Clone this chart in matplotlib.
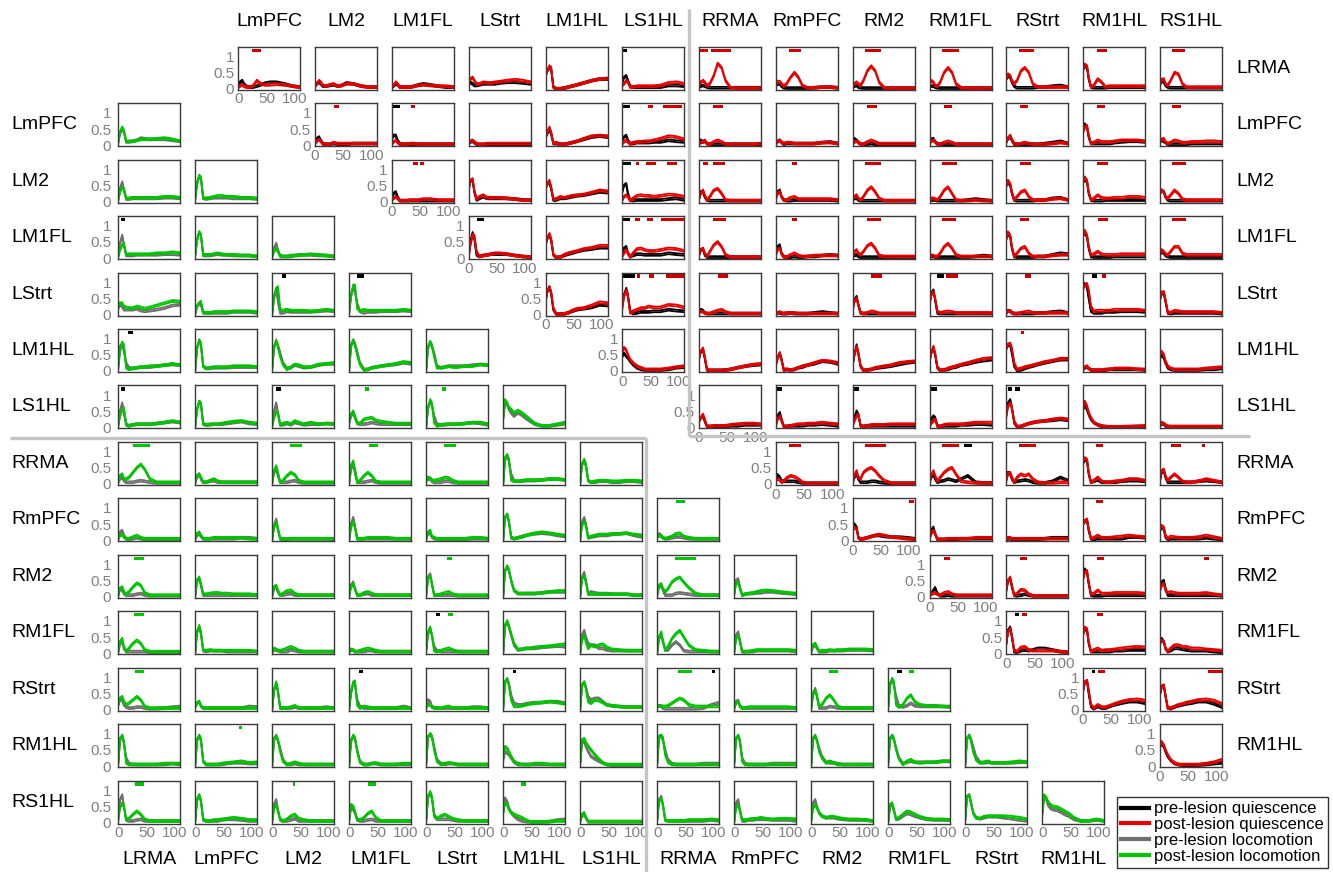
import matplotlib
matplotlib.use('Agg')
import matplotlib.pyplot as plt
from matplotlib.lines import Line2D
import numpy as np

plt.rcParams['font.family'] = ['Liberation Sans', 'DejaVu Sans']

regions = ['LRMA', 'LmPFC', 'LM2', 'LM1FL', 'LStrt', 'LM1HL', 'LS1HL',
           'RRMA', 'RmPFC', 'RM2', 'RM1FL', 'RStrt', 'RM1HL', 'RS1HL']

# lag (bins) at which each curve value is given
lags = [0, 3, 7, 10, 14, 19, 26, 33, 40, 47, 56, 68, 82, 96, 110]

# ---- quiescence (upper-right triangle), values x100 ----
# one list per row region, panels ordered left to right (columns after the row region)
quiet_pre_LRMA = [
    [5, 20, 25, 15, 8, 5, 5, 8, 12, 17, 20, 20, 15, 8, 5],
    [8, 15, 20, 15, 8, 8, 10, 12, 8, 10, 18, 15, 8, 5, 5],
    [5, 8, 15, 12, 5, 5, 5, 5, 8, 12, 15, 12, 8, 5, 5],
    [10, 20, 15, 10, 10, 12, 15, 15, 15, 15, 18, 20, 20, 18, 15],
    [40, 55, 65, 60, 5, 0, 0, 2, 5, 8, 12, 18, 25, 30, 30],
    [20, 35, 40, 25, 8, 5, 5, 5, 5, 5, 5, 5, 10, 10, 8],
    [5, 8, 10, 8, 5, 3, 3, 3, 3, 3, 3, 3, 3, 3, 3],
    [10, 15, 15, 8, 3, 2, 2, 2, 2, 2, 2, 3, 5, 5, 3],
    [5, 8, 10, 5, 3, 2, 2, 2, 2, 2, 2, 2, 2, 2, 2],
    [5, 8, 8, 5, 3, 2, 2, 2, 2, 2, 2, 2, 2, 2, 2],
    [30, 40, 35, 20, 8, 3, 3, 3, 3, 3, 5, 5, 8, 10, 5],
    [60, 70, 65, 30, 5, 3, 3, 3, 3, 5, 5, 5, 5, 5, 5],
    [10, 25, 20, 10, 5, 3, 3, 3, 3, 3, 3, 3, 3, 3, 3],
]
quiet_post_LRMA = [
    [5, 8, 12, 8, 5, 5, 8, 25, 15, 12, 12, 14, 12, 8, 5],
    [8, 15, 25, 20, 10, 8, 12, 15, 8, 10, 15, 15, 8, 5, 5],
    [5, 10, 20, 15, 5, 5, 5, 5, 8, 10, 12, 10, 8, 8, 5],
    [15, 30, 35, 25, 15, 15, 20, 18, 18, 20, 22, 25, 28, 25, 20],
    [40, 55, 70, 65, 5, 0, 0, 2, 5, 8, 12, 18, 25, 30, 32],
    [10, 15, 25, 20, 5, 5, 8, 8, 8, 8, 8, 10, 18, 20, 15],
    [10, 20, 25, 20, 10, 15, 40, 78, 65, 25, 3, 2, 2, 2, 2],
    [15, 22, 22, 15, 8, 15, 35, 50, 35, 10, 3, 3, 5, 5, 3],
    [10, 15, 20, 15, 10, 25, 55, 70, 55, 20, 3, 2, 2, 2, 2],
    [15, 25, 20, 10, 8, 20, 50, 65, 50, 15, 3, 2, 2, 2, 2],
    [30, 45, 40, 25, 15, 25, 55, 65, 50, 15, 5, 5, 5, 5, 5],
    [60, 75, 70, 35, 5, 10, 30, 20, 5, 8, 8, 8, 8, 8, 8],
    [15, 28, 30, 15, 10, 25, 50, 45, 15, 5, 5, 5, 5, 5, 5],
]
quiet_pre_LmPFC = [
    [10, 20, 25, 15, 5, 3, 3, 5, 3, 3, 3, 5, 5, 5, 5],
    [20, 30, 30, 15, 5, 3, 3, 3, 3, 3, 3, 3, 3, 3, 3],
    [5, 10, 12, 8, 3, 2, 2, 3, 3, 3, 3, 3, 3, 3, 3],
    [25, 35, 50, 35, 5, 5, 3, 3, 5, 8, 12, 18, 25, 28, 25],
    [15, 25, 30, 15, 5, 5, 8, 8, 8, 8, 10, 10, 15, 12, 10],
    [5, 15, 10, 12, 5, 3, 3, 3, 3, 3, 3, 3, 3, 3, 3],
    [5, 12, 15, 8, 3, 5, 5, 5, 5, 5, 5, 5, 8, 10, 5],
    [10, 20, 15, 8, 3, 3, 3, 5, 3, 3, 3, 3, 3, 3, 3],
    [10, 18, 20, 10, 5, 3, 3, 3, 3, 3, 3, 3, 3, 3, 3],
    [10, 20, 25, 15, 3, 3, 3, 3, 3, 3, 3, 5, 8, 12, 5],
    [50, 65, 55, 25, 5, 5, 5, 5, 5, 5, 8, 10, 12, 12, 10],
    [10, 15, 12, 8, 3, 3, 3, 3, 3, 3, 5, 5, 5, 5, 5],
]
quiet_post_LmPFC = [
    [5, 12, 18, 12, 3, 3, 3, 8, 5, 5, 5, 5, 5, 5, 5],
    [5, 10, 15, 8, 3, 3, 3, 5, 5, 3, 3, 3, 3, 3, 3],
    [5, 12, 15, 10, 5, 3, 3, 5, 5, 5, 5, 5, 5, 5, 5],
    [25, 40, 55, 40, 5, 8, 3, 3, 5, 8, 12, 20, 28, 30, 28],
    [5, 10, 15, 10, 3, 8, 10, 10, 12, 12, 15, 20, 28, 25, 18],
    [5, 8, 10, 15, 5, 3, 10, 15, 10, 3, 3, 3, 3, 3, 5],
    [5, 10, 15, 10, 5, 8, 8, 5, 5, 5, 5, 5, 8, 8, 5],
    [5, 10, 12, 10, 3, 3, 10, 15, 10, 5, 5, 5, 5, 5, 5],
    [5, 12, 15, 10, 3, 3, 8, 12, 8, 3, 3, 3, 3, 3, 3],
    [10, 22, 30, 18, 5, 3, 5, 8, 5, 3, 3, 3, 5, 8, 5],
    [40, 55, 60, 30, 5, 8, 15, 10, 10, 10, 12, 15, 15, 15, 12],
    [10, 18, 20, 10, 5, 8, 15, 12, 8, 8, 10, 10, 12, 12, 10],
]
quiet_pre_LM2 = [
    [10, 25, 30, 15, 3, 3, 3, 3, 3, 3, 3, 3, 3, 3, 3],
    [40, 65, 65, 30, 5, 10, 15, 10, 10, 10, 10, 10, 8, 5, 5],
    [40, 55, 60, 40, 5, 5, 10, 10, 12, 15, 18, 20, 25, 30, 28],
    [30, 50, 55, 25, 5, 3, 5, 5, 5, 5, 5, 5, 8, 10, 5],
    [10, 30, 30, 15, 5, 3, 3, 3, 3, 3, 3, 3, 3, 3, 3],
    [10, 30, 35, 15, 5, 3, 3, 5, 5, 5, 5, 5, 5, 5, 3],
    [5, 10, 10, 5, 3, 3, 3, 3, 3, 3, 3, 3, 3, 3, 3],
    [5, 5, 5, 5, 3, 3, 3, 3, 3, 3, 3, 5, 8, 5, 3],
    [50, 60, 50, 25, 5, 3, 3, 3, 3, 3, 5, 5, 10, 12, 5],
    [60, 70, 60, 25, 5, 3, 3, 3, 5, 5, 5, 5, 5, 5, 5],
    [25, 35, 30, 15, 5, 3, 3, 3, 3, 3, 3, 3, 3, 3, 3],
]
quiet_post_LM2 = [
    [5, 10, 15, 10, 3, 3, 3, 5, 5, 5, 8, 8, 5, 5, 5],
    [40, 65, 70, 35, 8, 15, 20, 12, 12, 12, 12, 10, 8, 5, 5],
    [40, 55, 65, 45, 8, 8, 15, 12, 15, 18, 20, 22, 28, 35, 32],
    [5, 15, 20, 15, 3, 10, 18, 20, 18, 18, 15, 18, 22, 20, 15],
    [10, 25, 35, 20, 5, 15, 35, 40, 25, 5, 3, 3, 3, 3, 3],
    [10, 25, 30, 15, 5, 5, 12, 15, 8, 8, 8, 8, 8, 8, 5],
    [10, 15, 20, 10, 5, 15, 35, 45, 30, 10, 3, 3, 3, 3, 3],
    [5, 10, 10, 8, 5, 15, 35, 45, 25, 5, 3, 3, 5, 3, 3],
    [50, 65, 55, 30, 5, 15, 30, 35, 15, 5, 5, 5, 8, 10, 5],
    [60, 75, 65, 30, 5, 10, 20, 12, 10, 10, 12, 12, 15, 15, 12],
    [25, 35, 30, 15, 10, 20, 35, 25, 8, 5, 5, 5, 5, 5, 5],
]
quiet_pre_LM1FL = [
    [10, 50, 78, 60, 10, 5, 8, 10, 12, 12, 12, 12, 8, 5, 3],
    [40, 60, 72, 55, 10, 2, 3, 8, 12, 15, 20, 25, 28, 32, 32],
    [20, 30, 35, 15, 5, 8, 12, 12, 10, 10, 10, 10, 15, 12, 10],
    [10, 25, 28, 10, 3, 3, 3, 3, 3, 3, 3, 3, 3, 3, 3],
    [15, 35, 40, 15, 5, 3, 3, 5, 3, 3, 5, 5, 8, 10, 8],
    [5, 8, 10, 5, 3, 3, 3, 3, 3, 3, 3, 3, 3, 3, 3],
    [3, 5, 5, 3, 3, 3, 3, 3, 3, 3, 3, 3, 5, 8, 5],
    [60, 75, 65, 30, 5, 3, 3, 3, 3, 3, 5, 5, 10, 15, 12],
    [70, 80, 65, 30, 5, 3, 3, 3, 3, 3, 5, 5, 5, 5, 5],
    [10, 20, 15, 8, 5, 3, 3, 3, 3, 3, 3, 3, 3, 3, 3],
]
quiet_post_LM1FL = [
    [5, 40, 72, 70, 20, 5, 8, 10, 12, 15, 15, 12, 8, 5, 3],
    [40, 60, 75, 60, 10, 2, 3, 10, 15, 18, 22, 28, 32, 38, 38],
    [5, 15, 25, 15, 3, 15, 28, 30, 25, 22, 22, 25, 30, 28, 22],
    [10, 25, 30, 15, 5, 20, 40, 50, 35, 10, 3, 3, 3, 3, 3],
    [10, 25, 30, 12, 3, 3, 10, 15, 8, 5, 5, 8, 8, 8, 8],
    [10, 20, 25, 15, 10, 20, 38, 45, 30, 8, 5, 5, 5, 5, 5],
    [5, 8, 8, 5, 5, 15, 35, 45, 30, 10, 5, 5, 5, 5, 5],
    [60, 80, 70, 35, 5, 15, 30, 35, 15, 5, 5, 5, 8, 10, 10],
    [70, 85, 70, 35, 10, 12, 20, 12, 10, 10, 10, 12, 12, 12, 12],
    [15, 25, 20, 12, 10, 20, 35, 35, 15, 10, 10, 10, 10, 10, 10],
]
quiet_pre_LStrt = [
    [40, 70, 85, 65, 15, 2, 2, 2, 5, 10, 15, 18, 22, 30, 28],
    [30, 60, 80, 60, 10, 3, 5, 8, 8, 8, 10, 10, 15, 12, 10],
    [5, 15, 12, 5, 3, 3, 3, 3, 3, 3, 3, 3, 3, 3, 3],
    [3, 5, 5, 3, 3, 3, 5, 3, 3, 3, 3, 5, 8, 5, 3],
    [20, 45, 55, 30, 5, 3, 3, 3, 3, 3, 3, 3, 3, 3, 3],
    [30, 65, 75, 45, 5, 3, 3, 3, 3, 3, 3, 3, 3, 3, 3],
    [5, 12, 10, 5, 3, 3, 3, 3, 3, 3, 5, 5, 8, 10, 5],
    [85, 95, 85, 50, 10, 5, 5, 5, 8, 8, 8, 10, 10, 10, 8],
    [45, 65, 65, 40, 5, 3, 5, 5, 5, 5, 5, 5, 5, 5, 3],
]
quiet_post_LStrt = [
    [40, 70, 85, 70, 20, 2, 2, 2, 5, 12, 18, 20, 28, 38, 35],
    [20, 55, 75, 55, 5, 10, 15, 20, 20, 25, 22, 22, 30, 28, 22],
    [5, 10, 8, 5, 3, 3, 8, 12, 15, 8, 3, 3, 3, 3, 3],
    [3, 5, 8, 5, 3, 5, 5, 5, 3, 3, 3, 3, 3, 3, 3],
    [15, 40, 50, 30, 5, 3, 5, 10, 8, 3, 3, 3, 3, 3, 3],
    [30, 60, 70, 50, 10, 5, 8, 10, 8, 5, 5, 5, 5, 5, 5],
    [5, 10, 12, 5, 3, 3, 5, 8, 10, 5, 5, 5, 5, 5, 5],
    [80, 90, 95, 75, 25, 10, 12, 12, 12, 12, 15, 15, 15, 15, 12],
    [50, 68, 70, 45, 8, 5, 12, 10, 8, 8, 8, 8, 8, 8, 5],
]
quiet_pre_LM1HL = [
    [45, 55, 45, 40, 30, 20, 10, 5, 3, 3, 3, 3, 5, 10, 12],
    [40, 60, 65, 40, 3, 2, 2, 2, 2, 3, 5, 10, 15, 18, 20],
    [20, 40, 55, 35, 3, 5, 3, 5, 10, 12, 18, 22, 30, 28, 22],
    [20, 50, 80, 55, 15, 2, 3, 5, 8, 10, 12, 15, 20, 25, 28],
    [30, 55, 72, 50, 10, 2, 3, 5, 10, 12, 18, 22, 28, 32, 35],
    [70, 80, 80, 55, 15, 2, 3, 8, 12, 15, 20, 25, 30, 35, 35],
    [5, 10, 12, 8, 3, 2, 2, 2, 3, 5, 5, 5, 5, 5, 3],
    [40, 50, 40, 25, 10, 5, 3, 3, 3, 3, 3, 3, 5, 5, 8],
]
quiet_post_LM1HL = [
    [60, 72, 65, 50, 35, 25, 15, 10, 5, 5, 5, 5, 8, 12, 15],
    [40, 60, 70, 45, 5, 2, 2, 2, 2, 3, 5, 10, 15, 20, 22],
    [20, 40, 55, 35, 3, 5, 3, 5, 10, 15, 18, 25, 32, 30, 25],
    [20, 50, 75, 55, 15, 2, 3, 5, 10, 12, 15, 18, 25, 28, 30],
    [30, 55, 75, 55, 12, 2, 3, 8, 12, 15, 20, 25, 32, 38, 40],
    [70, 82, 85, 70, 25, 5, 8, 12, 15, 18, 22, 28, 32, 38, 38],
    [8, 12, 15, 8, 3, 3, 3, 3, 5, 5, 8, 8, 8, 5, 5],
    [50, 60, 50, 30, 15, 8, 5, 5, 5, 5, 5, 5, 8, 10, 12],
]
quiet_pre_LS1HL = [
    [20, 30, 35, 20, 3, 3, 3, 3, 3, 3, 5, 5, 8, 8, 8],
    [10, 35, 45, 25, 3, 3, 5, 5, 5, 5, 8, 8, 10, 8, 5],
    [10, 30, 50, 40, 5, 3, 5, 5, 5, 5, 5, 5, 5, 5, 5],
    [10, 25, 35, 30, 5, 3, 5, 5, 5, 5, 8, 8, 10, 10, 8],
    [40, 75, 85, 60, 15, 2, 3, 8, 12, 15, 18, 20, 22, 25, 22],
    [55, 70, 55, 40, 25, 15, 8, 3, 2, 2, 2, 2, 2, 3, 3],
    [5, 12, 10, 5, 3, 2, 2, 2, 2, 2, 2, 2, 2, 2, 2],
]
quiet_post_LS1HL = [
    [20, 30, 40, 25, 3, 3, 5, 5, 5, 5, 8, 10, 12, 12, 10],
    [5, 25, 35, 20, 3, 3, 5, 8, 10, 10, 12, 12, 15, 12, 10],
    [5, 20, 35, 40, 5, 3, 5, 8, 8, 8, 8, 10, 10, 10, 10],
    [5, 12, 20, 25, 5, 3, 8, 10, 10, 10, 10, 12, 15, 15, 15],
    [35, 65, 75, 60, 20, 3, 3, 8, 12, 15, 18, 20, 25, 28, 25],
    [60, 80, 65, 45, 30, 15, 8, 5, 3, 2, 2, 2, 3, 3, 5],
    [8, 15, 12, 8, 3, 3, 3, 3, 3, 3, 3, 3, 3, 3, 3],
]
quiet_pre_RRMA = [
    [15, 28, 20, 10, 8, 8, 8, 8, 5, 3, 2, 2, 2, 2, 2],
    [5, 20, 30, 15, 5, 5, 5, 8, 8, 5, 3, 2, 2, 2, 2],
    [5, 20, 30, 15, 5, 8, 10, 15, 12, 8, 15, 25, 5, 3, 3],
    [15, 35, 30, 15, 5, 8, 10, 12, 10, 5, 3, 3, 8, 20, 10],
    [65, 75, 70, 30, 5, 8, 12, 5, 5, 5, 5, 8, 10, 10, 8],
    [10, 35, 40, 20, 5, 5, 5, 5, 5, 5, 5, 8, 10, 8, 5],
]
quiet_post_RRMA = [
    [10, 15, 12, 5, 8, 18, 25, 22, 15, 5, 2, 2, 2, 2, 2],
    [5, 25, 40, 20, 15, 35, 45, 50, 40, 25, 10, 3, 2, 2, 2],
    [10, 25, 40, 25, 8, 20, 35, 45, 50, 30, 8, 5, 3, 3, 3],
    [10, 30, 35, 20, 5, 20, 30, 25, 30, 15, 5, 3, 3, 5, 5],
    [70, 80, 75, 35, 5, 10, 20, 8, 5, 5, 8, 10, 15, 15, 10],
    [10, 40, 45, 25, 10, 20, 30, 20, 8, 5, 5, 8, 15, 10, 5],
]
quiet_pre_RmPFC = [
    [30, 50, 40, 10, 3, 5, 8, 12, 15, 15, 12, 10, 10, 8, 5],
    [5, 30, 40, 20, 3, 3, 3, 3, 3, 3, 5, 5, 5, 5, 5],
    [3, 5, 5, 3, 3, 3, 3, 3, 3, 3, 3, 5, 8, 8, 8],
    [50, 60, 60, 30, 5, 3, 5, 5, 5, 5, 5, 5, 10, 10, 8],
    [30, 40, 35, 10, 3, 5, 5, 5, 5, 5, 5, 5, 8, 5, 3],
]
quiet_post_RmPFC = [
    [30, 40, 35, 8, 3, 5, 8, 12, 15, 18, 15, 10, 8, 5, 3],
    [5, 20, 30, 20, 3, 3, 3, 5, 5, 5, 5, 5, 8, 8, 8],
    [5, 8, 8, 5, 5, 5, 5, 5, 5, 5, 5, 5, 5, 5, 5],
    [50, 60, 65, 35, 5, 8, 15, 8, 8, 8, 10, 12, 15, 12, 10],
    [30, 45, 40, 15, 5, 12, 10, 8, 8, 8, 8, 10, 15, 10, 5],
]
quiet_pre_RM2 = [
    [3, 10, 20, 28, 10, 3, 3, 5, 3, 3, 3, 3, 3, 3, 3],
    [20, 50, 55, 30, 5, 3, 5, 8, 5, 3, 3, 3, 3, 3, 3],
    [60, 85, 75, 40, 5, 3, 3, 3, 5, 5, 5, 5, 5, 5, 5],
    [20, 45, 50, 25, 5, 5, 5, 5, 5, 5, 5, 5, 5, 5, 3],
]
quiet_post_RM2 = [
    [3, 8, 10, 12, 8, 5, 12, 15, 8, 5, 5, 5, 5, 5, 5],
    [20, 50, 60, 35, 5, 10, 22, 20, 8, 3, 3, 3, 3, 3, 3],
    [55, 75, 80, 45, 8, 10, 20, 10, 10, 10, 12, 12, 12, 12, 10],
    [20, 35, 40, 20, 12, 15, 12, 10, 10, 10, 10, 10, 12, 8, 5],
]
quiet_pre_RM1FL = [
    [30, 70, 80, 50, 5, 3, 8, 10, 8, 10, 15, 15, 10, 5, 3],
    [60, 75, 70, 30, 5, 5, 5, 5, 5, 5, 8, 8, 10, 10, 10],
    [30, 45, 35, 15, 5, 8, 15, 15, 12, 10, 8, 8, 8, 5, 3],
]
quiet_post_RM1FL = [
    [30, 65, 75, 55, 10, 5, 18, 20, 10, 8, 8, 8, 8, 5, 3],
    [60, 80, 75, 35, 5, 10, 15, 8, 10, 10, 12, 15, 18, 20, 18],
    [30, 40, 35, 15, 5, 15, 25, 25, 20, 20, 15, 15, 12, 10, 8],
]
quiet_pre_RStrt = [
    [60, 85, 88, 50, 10, 3, 10, 5, 5, 10, 15, 20, 25, 25, 20],
    [45, 70, 75, 40, 5, 3, 8, 12, 15, 18, 20, 25, 25, 18, 8],
]
quiet_post_RStrt = [
    [60, 85, 90, 60, 15, 5, 15, 8, 8, 12, 18, 25, 30, 32, 28],
    [50, 72, 75, 45, 5, 5, 10, 15, 18, 22, 25, 30, 32, 28, 18],
]
quiet_pre_RM1HL = [
    [60, 70, 60, 45, 30, 18, 8, 5, 3, 3, 3, 3, 5, 8, 10],
]
quiet_post_RM1HL = [
    [60, 75, 65, 50, 35, 20, 10, 5, 5, 5, 5, 5, 8, 12, 20],
]

# ---- locomotion (lower-left triangle), values x100 ----
# one list per row region, panels ordered left to right (columns before the row region)
loco_pre_LmPFC = [
    [10, 35, 50, 40, 10, 10, 12, 15, 22, 20, 18, 18, 18, 15, 12],
]
loco_post_LmPFC = [
    [10, 40, 55, 45, 12, 12, 12, 15, 18, 18, 18, 20, 22, 18, 12],
]
loco_pre_LM2 = [
    [10, 40, 60, 35, 8, 8, 10, 10, 10, 10, 10, 10, 12, 12, 10],
    [10, 55, 80, 70, 10, 8, 10, 12, 12, 12, 12, 10, 10, 10, 8],
]
loco_post_LM2 = [
    [5, 30, 45, 40, 10, 10, 12, 12, 12, 12, 12, 12, 15, 15, 12],
    [10, 55, 80, 75, 12, 10, 12, 15, 18, 18, 15, 15, 12, 12, 10],
]
loco_pre_LM1FL = [
    [10, 45, 70, 40, 8, 8, 8, 10, 10, 10, 10, 10, 12, 12, 10],
    [10, 55, 80, 70, 8, 8, 8, 10, 12, 10, 10, 8, 8, 8, 5],
    [5, 30, 45, 25, 5, 5, 5, 5, 8, 8, 10, 10, 8, 8, 5],
]
loco_post_LM1FL = [
    [5, 25, 40, 45, 10, 12, 12, 12, 12, 12, 12, 15, 15, 18, 15],
    [10, 55, 80, 72, 10, 10, 10, 12, 15, 12, 10, 10, 8, 8, 5],
    [5, 20, 30, 20, 8, 5, 5, 8, 8, 10, 10, 12, 10, 8, 5],
]
loco_pre_LStrt = [
    [20, 30, 25, 15, 15, 15, 15, 18, 12, 10, 12, 15, 20, 28, 30],
    [5, 25, 35, 30, 5, 5, 5, 5, 5, 5, 5, 8, 8, 8, 5],
    [5, 55, 80, 40, 5, 5, 10, 8, 8, 8, 8, 8, 10, 12, 10],
    [10, 55, 85, 70, 35, 10, 5, 8, 8, 8, 10, 10, 10, 12, 10],
]
loco_post_LStrt = [
    [30, 35, 35, 25, 22, 20, 20, 25, 22, 18, 22, 28, 35, 42, 40],
    [5, 25, 35, 40, 8, 5, 5, 8, 8, 8, 8, 10, 10, 10, 8],
    [5, 50, 80, 85, 15, 12, 15, 12, 12, 12, 12, 10, 12, 15, 12],
    [10, 60, 90, 90, 20, 10, 15, 12, 12, 12, 12, 12, 12, 15, 12],
]
loco_pre_LM1HL = [
    [15, 75, 85, 60, 25, 10, 8, 10, 12, 12, 12, 15, 18, 20, 18],
    [5, 70, 95, 80, 15, 8, 8, 10, 10, 10, 10, 12, 12, 12, 12],
    [10, 75, 92, 80, 55, 25, 8, 10, 18, 15, 10, 12, 18, 22, 22],
    [10, 80, 95, 85, 60, 25, 5, 5, 10, 12, 15, 18, 20, 25, 22],
    [10, 75, 90, 75, 55, 15, 10, 12, 15, 15, 15, 15, 18, 20, 18],
]
loco_post_LM1HL = [
    [10, 60, 88, 80, 10, 5, 8, 10, 12, 12, 15, 15, 18, 22, 18],
    [5, 70, 95, 85, 15, 8, 10, 12, 12, 12, 12, 15, 15, 15, 12],
    [10, 70, 95, 75, 45, 20, 5, 12, 20, 18, 12, 12, 20, 22, 25],
    [5, 75, 95, 80, 50, 20, 3, 5, 10, 12, 15, 18, 22, 28, 25],
    [5, 70, 90, 80, 45, 10, 10, 12, 15, 12, 12, 15, 15, 20, 18],
]
loco_pre_LS1HL = [
    [10, 50, 75, 45, 8, 5, 8, 10, 10, 10, 10, 12, 15, 18, 15],
    [5, 55, 80, 70, 10, 8, 8, 10, 10, 10, 12, 15, 18, 12, 10],
    [10, 50, 75, 45, 8, 8, 12, 8, 15, 12, 8, 10, 10, 12, 10],
    [15, 35, 45, 30, 12, 10, 10, 12, 15, 12, 10, 10, 10, 10, 10],
    [5, 60, 80, 70, 35, 10, 8, 8, 10, 10, 10, 12, 15, 12, 8],
    [30, 75, 70, 55, 45, 35, 45, 38, 28, 20, 10, 5, 5, 8, 12],
]
loco_post_LS1HL = [
    [5, 35, 55, 60, 10, 5, 8, 10, 10, 10, 10, 12, 15, 20, 15],
    [5, 55, 80, 75, 12, 8, 10, 10, 10, 12, 15, 18, 20, 15, 12],
    [5, 30, 50, 45, 8, 12, 15, 10, 20, 15, 10, 15, 10, 12, 12],
    [15, 40, 50, 35, 15, 12, 25, 28, 30, 22, 18, 15, 12, 12, 12],
    [5, 60, 85, 75, 15, 5, 8, 10, 10, 10, 10, 12, 15, 15, 10],
    [30, 85, 75, 62, 55, 45, 52, 45, 35, 25, 12, 5, 5, 10, 15],
]
loco_pre_RRMA = [
    [5, 15, 20, 10, 5, 5, 5, 8, 10, 8, 5, 3, 3, 3, 3],
    [5, 20, 30, 15, 5, 5, 8, 10, 5, 5, 5, 5, 5, 5, 5],
    [5, 35, 45, 25, 5, 5, 5, 8, 10, 5, 3, 3, 3, 3, 3],
    [5, 45, 60, 35, 5, 5, 5, 8, 10, 5, 3, 3, 3, 3, 3],
    [10, 15, 15, 8, 5, 5, 5, 8, 8, 5, 3, 3, 3, 3, 3],
    [5, 75, 85, 70, 30, 10, 8, 8, 10, 10, 10, 12, 15, 15, 12],
    [5, 60, 70, 55, 10, 5, 5, 8, 8, 8, 5, 5, 8, 8, 5],
]
loco_post_RRMA = [
    [10, 25, 30, 15, 15, 20, 35, 50, 60, 45, 15, 5, 5, 5, 5],
    [5, 25, 30, 20, 5, 5, 10, 15, 8, 5, 5, 5, 5, 5, 5],
    [5, 40, 55, 35, 5, 10, 25, 35, 28, 10, 5, 5, 5, 5, 5],
    [5, 55, 70, 45, 5, 10, 25, 35, 25, 8, 5, 5, 5, 5, 5],
    [12, 20, 18, 12, 10, 12, 15, 20, 18, 10, 5, 5, 5, 5, 5],
    [5, 80, 90, 75, 12, 8, 8, 10, 12, 12, 12, 12, 15, 15, 12],
    [5, 60, 75, 60, 10, 5, 8, 10, 10, 10, 8, 8, 10, 10, 8],
]
loco_pre_RmPFC = [
    [5, 25, 30, 15, 5, 3, 5, 8, 5, 3, 3, 3, 3, 3, 3],
    [5, 15, 20, 12, 5, 5, 5, 5, 5, 5, 5, 5, 8, 8, 5],
    [5, 45, 65, 35, 5, 3, 3, 5, 5, 5, 5, 5, 5, 5, 3],
    [5, 50, 70, 45, 5, 5, 5, 5, 5, 5, 5, 5, 5, 5, 5],
    [5, 20, 22, 10, 5, 5, 3, 3, 3, 3, 3, 3, 5, 5, 5],
    [5, 70, 80, 55, 8, 5, 8, 12, 15, 18, 20, 22, 20, 15, 12],
    [5, 55, 70, 50, 8, 10, 12, 15, 15, 15, 18, 20, 22, 15, 10],
    [10, 20, 15, 8, 5, 5, 8, 10, 10, 8, 5, 5, 5, 5, 5],
]
loco_post_RmPFC = [
    [5, 15, 18, 10, 5, 5, 10, 15, 8, 5, 5, 5, 5, 5, 5],
    [5, 20, 25, 15, 5, 5, 5, 8, 8, 8, 8, 8, 8, 5, 5],
    [5, 40, 55, 35, 5, 5, 5, 5, 5, 5, 5, 5, 5, 5, 5],
    [5, 40, 58, 40, 5, 5, 5, 8, 8, 8, 8, 8, 5, 5, 5],
    [8, 25, 30, 12, 8, 5, 5, 5, 5, 5, 5, 5, 8, 8, 5],
    [5, 70, 80, 60, 10, 5, 8, 10, 15, 18, 22, 25, 22, 18, 15],
    [5, 45, 60, 45, 8, 12, 15, 18, 18, 18, 20, 20, 22, 18, 15],
    [10, 15, 12, 8, 5, 8, 12, 20, 22, 12, 8, 5, 5, 5, 5],
]
loco_pre_RM2 = [
    [5, 25, 20, 10, 5, 5, 5, 8, 10, 5, 3, 3, 3, 3, 3],
    [5, 50, 55, 35, 5, 5, 5, 5, 5, 5, 5, 5, 5, 5, 5],
    [5, 25, 30, 15, 5, 5, 8, 10, 5, 5, 5, 5, 5, 5, 5],
    [5, 35, 45, 25, 5, 5, 8, 10, 5, 5, 5, 5, 5, 5, 5],
    [10, 60, 70, 40, 5, 5, 5, 5, 5, 5, 3, 3, 3, 3, 3],
    [5, 80, 92, 80, 50, 20, 10, 10, 10, 10, 10, 12, 15, 15, 15],
    [5, 60, 75, 50, 10, 15, 12, 10, 10, 10, 8, 8, 8, 5, 5],
    [5, 30, 35, 20, 5, 5, 5, 10, 12, 10, 8, 5, 5, 5, 5],
    [10, 50, 55, 30, 5, 8, 10, 10, 12, 12, 15, 15, 12, 10, 8],
]
loco_post_RM2 = [
    [5, 25, 30, 15, 8, 15, 30, 42, 35, 12, 5, 5, 5, 5, 5],
    [5, 50, 60, 40, 8, 8, 10, 12, 12, 10, 10, 8, 8, 8, 5],
    [5, 30, 35, 20, 5, 10, 18, 20, 10, 5, 5, 5, 5, 5, 5],
    [5, 30, 40, 25, 5, 5, 12, 15, 10, 5, 5, 5, 5, 5, 5],
    [5, 55, 65, 40, 5, 5, 8, 12, 15, 8, 5, 5, 5, 5, 5],
    [5, 80, 95, 85, 50, 20, 10, 10, 10, 10, 10, 12, 15, 18, 18],
    [5, 55, 65, 45, 8, 8, 8, 8, 8, 8, 8, 8, 8, 5, 5],
    [10, 35, 40, 25, 15, 25, 45, 55, 60, 45, 28, 10, 5, 5, 5],
    [10, 40, 45, 25, 5, 8, 10, 12, 15, 18, 20, 18, 15, 12, 10],
]
loco_pre_RM1FL = [
    [5, 30, 35, 15, 5, 5, 5, 5, 5, 5, 3, 3, 3, 3, 3],
    [5, 65, 80, 60, 8, 5, 8, 8, 8, 8, 5, 5, 5, 5, 5],
    [5, 10, 10, 8, 5, 5, 5, 10, 8, 5, 5, 5, 5, 5, 5],
    [5, 12, 10, 5, 5, 5, 5, 8, 8, 5, 5, 5, 5, 5, 5],
    [10, 60, 75, 55, 20, 8, 5, 5, 5, 5, 5, 5, 5, 5, 5],
    [5, 85, 95, 80, 55, 25, 10, 12, 15, 15, 15, 18, 20, 22, 20],
    [5, 55, 70, 50, 30, 25, 25, 15, 15, 10, 8, 8, 8, 8, 8],
    [5, 45, 55, 35, 10, 10, 25, 35, 25, 8, 5, 5, 5, 5, 5],
    [5, 55, 65, 40, 5, 5, 5, 5, 8, 8, 8, 8, 8, 8, 5],
    [5, 20, 25, 15, 5, 5, 5, 8, 8, 8, 8, 10, 10, 10, 8],
]
loco_post_RM1FL = [
    [5, 35, 45, 20, 5, 15, 30, 40, 30, 10, 5, 5, 5, 5, 5],
    [5, 65, 85, 65, 10, 8, 10, 8, 8, 8, 8, 8, 8, 8, 5],
    [8, 15, 12, 8, 8, 10, 15, 20, 15, 8, 5, 5, 5, 5, 5],
    [5, 10, 10, 5, 5, 8, 12, 15, 12, 8, 5, 5, 5, 5, 5],
    [10, 65, 80, 55, 8, 5, 8, 12, 15, 10, 5, 5, 5, 5, 5],
    [5, 85, 100, 85, 60, 30, 12, 12, 15, 15, 18, 20, 22, 25, 28],
    [5, 40, 55, 35, 15, 25, 20, 25, 28, 18, 12, 10, 8, 8, 8],
    [5, 50, 65, 40, 10, 20, 45, 60, 70, 50, 25, 10, 8, 5, 5],
    [5, 45, 55, 35, 5, 5, 5, 8, 10, 10, 10, 10, 10, 10, 8],
    [5, 25, 30, 20, 5, 8, 8, 10, 8, 10, 10, 12, 12, 12, 10],
]
loco_pre_RStrt = [
    [15, 30, 30, 15, 8, 5, 5, 8, 8, 5, 3, 3, 5, 8, 10],
    [10, 20, 25, 10, 5, 5, 5, 5, 5, 5, 5, 5, 5, 10, 8],
    [5, 60, 80, 55, 5, 5, 5, 5, 8, 5, 5, 5, 5, 8, 5],
    [5, 55, 85, 80, 30, 10, 5, 5, 5, 5, 5, 5, 5, 10, 5],
    [10, 30, 25, 10, 5, 5, 5, 5, 5, 5, 5, 5, 8, 8, 5],
    [10, 85, 95, 80, 45, 20, 15, 15, 18, 20, 22, 22, 25, 25, 20],
    [5, 75, 85, 70, 40, 30, 35, 35, 25, 15, 12, 10, 8, 8, 8],
    [8, 12, 10, 5, 3, 3, 3, 3, 3, 3, 3, 3, 5, 15, 22],
    [5, 25, 28, 12, 5, 5, 5, 5, 5, 5, 5, 5, 5, 5, 5],
    [5, 50, 65, 40, 5, 5, 5, 10, 8, 5, 5, 5, 5, 5, 5],
    [10, 80, 95, 75, 40, 12, 8, 12, 20, 12, 10, 10, 10, 10, 8],
]
loco_post_RStrt = [
    [15, 35, 40, 25, 15, 20, 30, 40, 30, 10, 5, 5, 5, 5, 5],
    [10, 20, 25, 12, 5, 5, 5, 5, 5, 5, 5, 5, 5, 5, 5],
    [5, 60, 85, 60, 5, 5, 5, 8, 12, 5, 5, 5, 5, 5, 5],
    [5, 50, 82, 88, 15, 5, 10, 8, 5, 5, 5, 5, 5, 5, 5],
    [8, 15, 15, 8, 5, 5, 5, 8, 10, 5, 5, 5, 5, 5, 5],
    [5, 85, 95, 75, 30, 10, 10, 12, 15, 18, 20, 22, 25, 22, 18],
    [5, 75, 85, 65, 25, 20, 30, 28, 22, 15, 12, 10, 8, 8, 8],
    [10, 12, 12, 10, 10, 12, 20, 28, 35, 30, 15, 10, 10, 10, 10],
    [5, 20, 25, 10, 5, 5, 8, 8, 8, 8, 8, 8, 8, 8, 5],
    [5, 45, 60, 45, 10, 15, 35, 45, 30, 10, 5, 5, 5, 5, 5],
    [10, 75, 95, 85, 15, 8, 15, 35, 45, 25, 15, 12, 12, 10, 10],
]
loco_pre_RM1HL = [
    [10, 85, 92, 70, 25, 8, 5, 5, 5, 5, 5, 5, 5, 8, 5],
    [5, 80, 92, 80, 15, 5, 5, 5, 5, 5, 8, 10, 10, 8, 8],
    [10, 85, 92, 80, 55, 20, 5, 5, 8, 5, 5, 5, 5, 5, 5],
    [10, 80, 92, 85, 50, 15, 5, 5, 8, 8, 5, 5, 5, 5, 5],
    [10, 90, 98, 90, 60, 20, 8, 5, 8, 8, 5, 5, 5, 5, 5],
    [20, 45, 40, 35, 25, 12, 5, 5, 5, 5, 5, 5, 5, 5, 5],
    [10, 75, 75, 60, 45, 30, 22, 15, 10, 5, 3, 3, 3, 3, 3],
    [10, 90, 92, 80, 50, 20, 8, 5, 5, 5, 5, 5, 8, 8, 8],
    [10, 85, 92, 75, 25, 8, 5, 5, 5, 5, 5, 8, 8, 8, 8],
    [5, 85, 92, 80, 55, 30, 12, 10, 10, 8, 5, 5, 5, 5, 5],
    [10, 85, 92, 82, 55, 25, 8, 12, 15, 12, 12, 12, 12, 15, 15],
    [5, 85, 95, 85, 60, 30, 12, 10, 12, 10, 10, 10, 10, 12, 12],
]
loco_post_RM1HL = [
    [10, 80, 95, 75, 10, 5, 5, 5, 5, 5, 5, 5, 8, 8, 8],
    [5, 80, 95, 85, 15, 5, 5, 5, 5, 8, 10, 12, 15, 10, 12],
    [5, 80, 95, 80, 45, 15, 5, 8, 12, 8, 5, 5, 5, 5, 5],
    [5, 75, 95, 88, 45, 12, 5, 5, 8, 10, 5, 5, 5, 8, 8],
    [10, 90, 100, 92, 50, 15, 5, 8, 10, 8, 5, 5, 5, 5, 5],
    [25, 60, 55, 45, 30, 15, 8, 5, 5, 5, 8, 8, 5, 5, 5],
    [10, 80, 85, 72, 62, 50, 35, 22, 10, 5, 5, 5, 5, 5, 5],
    [10, 92, 95, 88, 35, 12, 5, 5, 5, 5, 5, 5, 5, 5, 5],
    [10, 85, 95, 80, 15, 5, 5, 5, 5, 5, 5, 5, 5, 5, 5],
    [5, 85, 95, 80, 45, 25, 10, 15, 10, 5, 5, 5, 5, 5, 5],
    [10, 85, 95, 85, 50, 22, 5, 15, 20, 12, 10, 12, 12, 15, 15],
    [5, 85, 95, 80, 45, 20, 10, 12, 15, 10, 10, 10, 12, 15, 12],
]
loco_pre_RS1HL = [
    [10, 70, 85, 50, 8, 5, 5, 8, 10, 5, 5, 5, 5, 5, 5],
    [5, 70, 85, 65, 8, 5, 5, 5, 5, 8, 10, 10, 8, 5, 5],
    [5, 55, 70, 40, 8, 5, 5, 8, 12, 5, 5, 5, 5, 5, 5],
    [10, 45, 40, 30, 8, 5, 5, 8, 10, 5, 5, 5, 5, 5, 5],
    [10, 80, 90, 75, 20, 10, 10, 10, 10, 8, 5, 5, 5, 5, 5],
    [40, 75, 65, 45, 30, 20, 10, 5, 3, 2, 2, 2, 3, 8, 10],
    [5, 20, 25, 15, 3, 3, 3, 3, 3, 3, 3, 3, 3, 3, 3],
    [10, 70, 80, 55, 8, 5, 5, 5, 5, 5, 5, 5, 5, 8, 5],
    [5, 60, 70, 40, 5, 5, 8, 8, 10, 10, 10, 8, 8, 8, 5],
    [10, 60, 70, 50, 30, 20, 15, 15, 15, 12, 10, 8, 8, 8, 5],
    [5, 50, 55, 35, 10, 12, 20, 28, 25, 20, 15, 10, 8, 8, 8],
    [10, 80, 85, 60, 30, 15, 12, 15, 18, 18, 18, 15, 12, 8, 5],
    [25, 75, 72, 55, 45, 40, 38, 32, 25, 20, 10, 5, 5, 8, 5],
]
loco_post_RS1HL = [
    [10, 45, 60, 50, 10, 12, 25, 35, 25, 10, 5, 5, 5, 5, 5],
    [5, 70, 85, 70, 10, 5, 5, 8, 8, 10, 12, 15, 12, 8, 8],
    [5, 45, 55, 35, 10, 5, 10, 20, 25, 12, 8, 5, 5, 5, 5],
    [10, 55, 50, 35, 10, 8, 15, 28, 35, 15, 5, 5, 5, 5, 5],
    [10, 80, 95, 80, 25, 12, 20, 25, 18, 12, 8, 5, 5, 5, 5],
    [30, 60, 55, 40, 32, 25, 20, 15, 8, 3, 2, 2, 3, 5, 5],
    [5, 25, 30, 15, 3, 3, 3, 3, 3, 3, 3, 3, 3, 3, 3],
    [10, 65, 75, 55, 8, 5, 5, 5, 5, 5, 8, 8, 8, 10, 8],
    [5, 45, 55, 35, 8, 8, 10, 12, 12, 15, 12, 10, 12, 12, 10],
    [5, 45, 55, 45, 30, 20, 15, 18, 18, 15, 12, 10, 10, 8, 5],
    [5, 55, 60, 40, 10, 15, 25, 35, 32, 25, 18, 12, 10, 10, 8],
    [10, 80, 85, 65, 30, 15, 12, 18, 20, 20, 20, 20, 18, 15, 10],
    [30, 85, 78, 65, 55, 50, 48, 42, 35, 28, 15, 5, 5, 10, 5],
]

# significant lag ranges: (row region, column region, lag start, lag end, which group)
quiet_sig = [
    ('LRMA', 'LmPFC', 24, 40, 'post'), ('LRMA', 'LS1HL', 0, 8, 'pre'),
    ('LRMA', 'RRMA', 0, 16, 'post'), ('LRMA', 'RRMA', 21, 57, 'post'),
    ('LRMA', 'RmPFC', 24, 44, 'post'), ('LRMA', 'RM2', 21, 50, 'post'),
    ('LRMA', 'RM1FL', 23, 52, 'post'), ('LRMA', 'RStrt', 23, 49, 'post'),
    ('LRMA', 'RM1HL', 25, 42, 'post'), ('LRMA', 'RS1HL', 22, 44, 'post'),
    ('LmPFC', 'LM2', 34, 43, 'post'), ('LmPFC', 'LM1FL', 0, 15, 'pre'),
    ('LmPFC', 'LM1FL', 34, 41, 'post'), ('LmPFC', 'LS1HL', 0, 14, 'pre'),
    ('LmPFC', 'LS1HL', 46, 55, 'post'), ('LmPFC', 'LS1HL', 72, 106, 'post'),
    ('LmPFC', 'RRMA', 25, 43, 'post'), ('LmPFC', 'RM2', 25, 43, 'post'),
    ('LmPFC', 'RM1FL', 25, 40, 'post'), ('LmPFC', 'RStrt', 25, 38, 'post'),
    ('LmPFC', 'RM1HL', 25, 39, 'post'), ('LmPFC', 'RS1HL', 22, 37, 'post'),
    ('LM2', 'LM1FL', 38, 46, 'post'), ('LM2', 'LM1FL', 49, 57, 'post'),
    ('LM2', 'LS1HL', 0, 15, 'pre'), ('LM2', 'LS1HL', 24, 30, 'post'),
    ('LM2', 'LS1HL', 42, 60, 'post'), ('LM2', 'LS1HL', 79, 97, 'post'),
    ('LM2', 'RRMA', 7, 15, 'post'), ('LM2', 'RRMA', 25, 46, 'post'),
    ('LM2', 'RmPFC', 29, 37, 'post'), ('LM2', 'RM2', 22, 51, 'post'),
    ('LM2', 'RM1FL', 23, 49, 'post'), ('LM2', 'RStrt', 24, 43, 'post'),
    ('LM2', 'RM1HL', 25, 45, 'post'), ('LM2', 'RS1HL', 22, 46, 'post'),
    ('LM1FL', 'LStrt', 14, 28, 'pre'), ('LM1FL', 'LS1HL', 0, 14, 'pre'),
    ('LM1FL', 'LS1HL', 23, 31, 'post'), ('LM1FL', 'LS1HL', 43, 55, 'post'),
    ('LM1FL', 'LS1HL', 69, 110, 'post'), ('LM1FL', 'RRMA', 25, 47, 'post'),
    ('LM1FL', 'RmPFC', 29, 37, 'post'), ('LM1FL', 'RM2', 25, 50, 'post'),
    ('LM1FL', 'RM1FL', 23, 47, 'post'), ('LM1FL', 'RStrt', 25, 41, 'post'),
    ('LM1FL', 'RM1HL', 26, 44, 'post'), ('LM1FL', 'RS1HL', 22, 46, 'post'),
    ('LStrt', 'LS1HL', 0, 23, 'pre'), ('LStrt', 'LS1HL', 26, 31, 'post'),
    ('LStrt', 'LS1HL', 48, 57, 'post'), ('LStrt', 'LS1HL', 78, 110, 'post'),
    ('LStrt', 'RRMA', 34, 51, 'post'), ('LStrt', 'RM2', 32, 52, 'post'),
    ('LStrt', 'RM1FL', 13, 25, 'pre'), ('LStrt', 'RM1FL', 29, 50, 'post'),
    ('LStrt', 'RStrt', 34, 43, 'post'), ('LStrt', 'RM1HL', 16, 25, 'pre'),
    ('LStrt', 'RM1HL', 34, 41, 'post'), ('LM1HL', 'RStrt', 26, 31, 'post'),
    ('LS1HL', 'RmPFC', 1, 10, 'pre'), ('LS1HL', 'RM2', 3, 11, 'pre'),
    ('LS1HL', 'RM1FL', 1, 14, 'pre'), ('LS1HL', 'RStrt', 3, 10, 'pre'),
    ('LS1HL', 'RStrt', 16, 25, 'pre'),
    ('RRMA', 'RmPFC', 23, 45, 'post'), ('RRMA', 'RM2', 22, 59, 'post'),
    ('RRMA', 'RM1FL', 23, 53, 'post'), ('RRMA', 'RM1FL', 62, 75, 'pre'),
    ('RRMA', 'RStrt', 23, 52, 'post'), ('RRMA', 'RM1HL', 23, 35, 'post'),
    ('RRMA', 'RS1HL', 20, 38, 'post'), ('RRMA', 'RS1HL', 75, 80, 'post'),
    ('RmPFC', 'RM2', 100, 108, 'post'), ('RmPFC', 'RM1HL', 23, 36, 'post'),
    ('RM2', 'RM1FL', 25, 36, 'post'), ('RM2', 'RStrt', 25, 37, 'post'),
    ('RM2', 'RM1HL', 25, 37, 'post'), ('RM2', 'RS1HL', 79, 87, 'post'),
    ('RM1FL', 'RStrt', 15, 22, 'pre'), ('RM1FL', 'RStrt', 28, 37, 'post'),
    ('RM1FL', 'RM1HL', 24, 36, 'post'), ('RStrt', 'RM1HL', 16, 21, 'pre'),
    ('RStrt', 'RM1HL', 26, 38, 'post'), ('RStrt', 'RS1HL', 85, 110, 'post'),
]
loco_sig = [
    ('LM1FL', 'LRMA', 4, 12, 'pre'), ('LStrt', 'LM2', 17, 25, 'pre'),
    ('LStrt', 'LM1FL', 14, 26, 'pre'), ('LM1HL', 'LRMA', 18, 26, 'pre'),
    ('LS1HL', 'LRMA', 4, 11, 'pre'), ('LS1HL', 'LM2', 6, 15, 'pre'),
    ('LS1HL', 'LM1FL', 28, 35, 'post'), ('LS1HL', 'LStrt', 28, 35, 'post'),
    ('RRMA', 'LRMA', 26, 56, 'post'), ('RRMA', 'LM2', 31, 53, 'post'),
    ('RRMA', 'LM1FL', 35, 51, 'post'), ('RRMA', 'LStrt', 32, 53, 'post'),
    ('RmPFC', 'RRMA', 34, 49, 'post'), ('RM2', 'LRMA', 28, 46, 'post'),
    ('RM2', 'LStrt', 36, 46, 'post'), ('RM2', 'RRMA', 31, 68, 'post'),
    ('RM1FL', 'LRMA', 28, 46, 'post'), ('RM1FL', 'LStrt', 17, 25, 'pre'),
    ('RM1FL', 'LStrt', 38, 47, 'post'), ('RStrt', 'LRMA', 29, 46, 'post'),
    ('RStrt', 'LM1FL', 17, 24, 'pre'), ('RStrt', 'LM1HL', 17, 22, 'pre'),
    ('RStrt', 'RRMA', 37, 61, 'post'), ('RStrt', 'RRMA', 97, 103, 'pre'),
    ('RStrt', 'RM2', 31, 48, 'post'), ('RStrt', 'RM1FL', 16, 25, 'pre'),
    ('RStrt', 'RM1FL', 36, 46, 'post'), ('RM1HL', 'LmPFC', 77, 82, 'post'),
    ('RS1HL', 'LRMA', 29, 46, 'post'), ('RS1HL', 'LM2', 36, 41, 'post'),
    ('RS1HL', 'LM1FL', 34, 47, 'post'), ('RS1HL', 'LM1HL', 31, 40, 'post'),
]

quiet_pre = [quiet_pre_LRMA, quiet_pre_LmPFC, quiet_pre_LM2, quiet_pre_LM1FL,
             quiet_pre_LStrt, quiet_pre_LM1HL, quiet_pre_LS1HL, quiet_pre_RRMA,
             quiet_pre_RmPFC, quiet_pre_RM2, quiet_pre_RM1FL, quiet_pre_RStrt,
             quiet_pre_RM1HL]
quiet_post = [quiet_post_LRMA, quiet_post_LmPFC, quiet_post_LM2, quiet_post_LM1FL,
              quiet_post_LStrt, quiet_post_LM1HL, quiet_post_LS1HL, quiet_post_RRMA,
              quiet_post_RmPFC, quiet_post_RM2, quiet_post_RM1FL, quiet_post_RStrt,
              quiet_post_RM1HL]
loco_pre = [None, loco_pre_LmPFC, loco_pre_LM2, loco_pre_LM1FL, loco_pre_LStrt,
            loco_pre_LM1HL, loco_pre_LS1HL, loco_pre_RRMA, loco_pre_RmPFC,
            loco_pre_RM2, loco_pre_RM1FL, loco_pre_RStrt, loco_pre_RM1HL,
            loco_pre_RS1HL]
loco_post = [None, loco_post_LmPFC, loco_post_LM2, loco_post_LM1FL, loco_post_LStrt,
             loco_post_LM1HL, loco_post_LS1HL, loco_post_RRMA, loco_post_RmPFC,
             loco_post_RM2, loco_post_RM1FL, loco_post_RStrt, loco_post_RM1HL,
             loco_post_RS1HL]

C_QPRE, C_QPOST = '#000000', '#e60000'
C_LPRE, C_LPOST = '#6e6e6e', '#00c400'
SIG_COL = {'quiet': {'pre': '#000000', 'post': '#cc0000'},
           'loco': {'pre': '#000000', 'post': '#00c400'}}

W, H = 1333, 872
PW, PH = 62, 43
fig = plt.figure(figsize=(W / 100, H / 100), dpi=100)


def panel(left, top):
    return fig.add_axes([left / W, 1 - (top + PH) / H, PW / W, PH / H])


def style(ax, xlab, ylab, ypad):
    ax.set_xlim(0, 110)
    ax.set_ylim(-0.03, 1.3)
    ax.set_xticks([0, 50, 100])
    ax.set_yticks([0, 0.5, 1])
    ax.set_yticklabels(['0', '0.5', '1'])
    ax.tick_params(length=0, labelsize=11, labelcolor='#808080',
                   labelbottom=xlab, labelleft=ylab)
    ax.tick_params(axis='x', pad=2)
    ax.tick_params(axis='y', pad=ypad)
    for s in ax.spines.values():
        s.set_color('#3a3a3a')
        s.set_linewidth(1.0)


def curves(ax, pre, post, c_pre, c_post):
    # mean +/- error drawn as a pair of traces
    for vals, col in ((pre, c_pre), (post, c_post)):
        v = np.array(vals) / 100
        ax.plot(lags, v + 0.028, color=col, lw=1.3)
        ax.plot(lags, v - 0.028, color=col, lw=1.3)


def col_left_upper(c):
    return 238.3 + (c - 1) * 76.8


def col_left_lower(c):
    return 118.3 + c * 77.0


def row_top(r):
    return 46.7 + r * 56.45


axes_q, axes_l = {}, {}

# upper-right triangle: quiescence
for r in range(13):
    for k, c in enumerate(range(r + 1, 14)):
        ax = panel(col_left_upper(c), row_top(r))
        diag = (k == 0)
        style(ax, diag, diag, 3)
        curves(ax, quiet_pre[r][k], quiet_post[r][k], C_QPRE, C_QPOST)
        axes_q[(r, c)] = ax

# lower-left triangle: locomotion
for r in range(1, 14):
    for c in range(r):
        ax = panel(col_left_lower(c), row_top(r))
        style(ax, r == 13, c == 0, 5)
        curves(ax, loco_pre[r][c], loco_post[r][c], C_LPRE, C_LPOST)
        axes_l[(r, c)] = ax

for sigs, axd, key in ((quiet_sig, axes_q, 'quiet'), (loco_sig, axes_l, 'loco')):
    for rname, cname, x0, x1, grp in sigs:
        ax = axd[(regions.index(rname), regions.index(cname))]
        ax.fill_between([x0, x1], 1.14, 1.24, color=SIG_COL[key][grp], lw=0)

# region labels
for c in range(1, 14):
    fig.text((col_left_upper(c) + PW / 2) / W, 1 - 21 / H, regions[c],
             ha='center', va='center', fontsize=14)
for r in range(13):
    fig.text(1236 / W, 1 - (row_top(r) + PH / 2) / H, regions[r],
             ha='left', va='center', fontsize=14)
for r in range(1, 14):
    fig.text(11 / W, 1 - (row_top(r) + PH / 2) / H, regions[r],
             ha='left', va='center', fontsize=14)
for c in range(13):
    fig.text((col_left_lower(c) + PW / 2) / W, 1 - 859 / H, regions[c],
             ha='center', va='center', fontsize=14)

# hemisphere dividers
div = dict(transform=fig.transFigure, color='#c4c4c4', lw=2.4, solid_capstyle='butt')
fig.add_artist(Line2D([689 / W, 689 / W], [1 - 9 / H, 1 - 436 / H], **div))
fig.add_artist(Line2D([689 / W, 1250 / W], [1 - 436 / H, 1 - 436 / H], **div))
fig.add_artist(Line2D([10 / W, 646 / W], [1 - 438 / H, 1 - 438 / H], **div))
fig.add_artist(Line2D([646 / W, 646 / W], [1 - 438 / H, 0], **div))

handles = [Line2D([], [], color=C_QPRE, lw=3), Line2D([], [], color=C_QPOST, lw=3),
           Line2D([], [], color=C_LPRE, lw=3), Line2D([], [], color=C_LPOST, lw=3)]
labels = ['pre-lesion quiescence', 'post-lesion quiescence',
          'pre-lesion locomotion', 'post-lesion locomotion']
leg = fig.legend(handles, labels, loc='lower right',
                 bbox_to_anchor=(1328 / W, 1 - 868 / H), fontsize=12,
                 frameon=True, fancybox=False, edgecolor='black',
                 handlelength=1.7, handletextpad=0.3, labelspacing=0.05,
                 borderpad=0.25, borderaxespad=0)
leg.get_frame().set_linewidth(1.0)

fig.savefig('out.png', dpi=100)
